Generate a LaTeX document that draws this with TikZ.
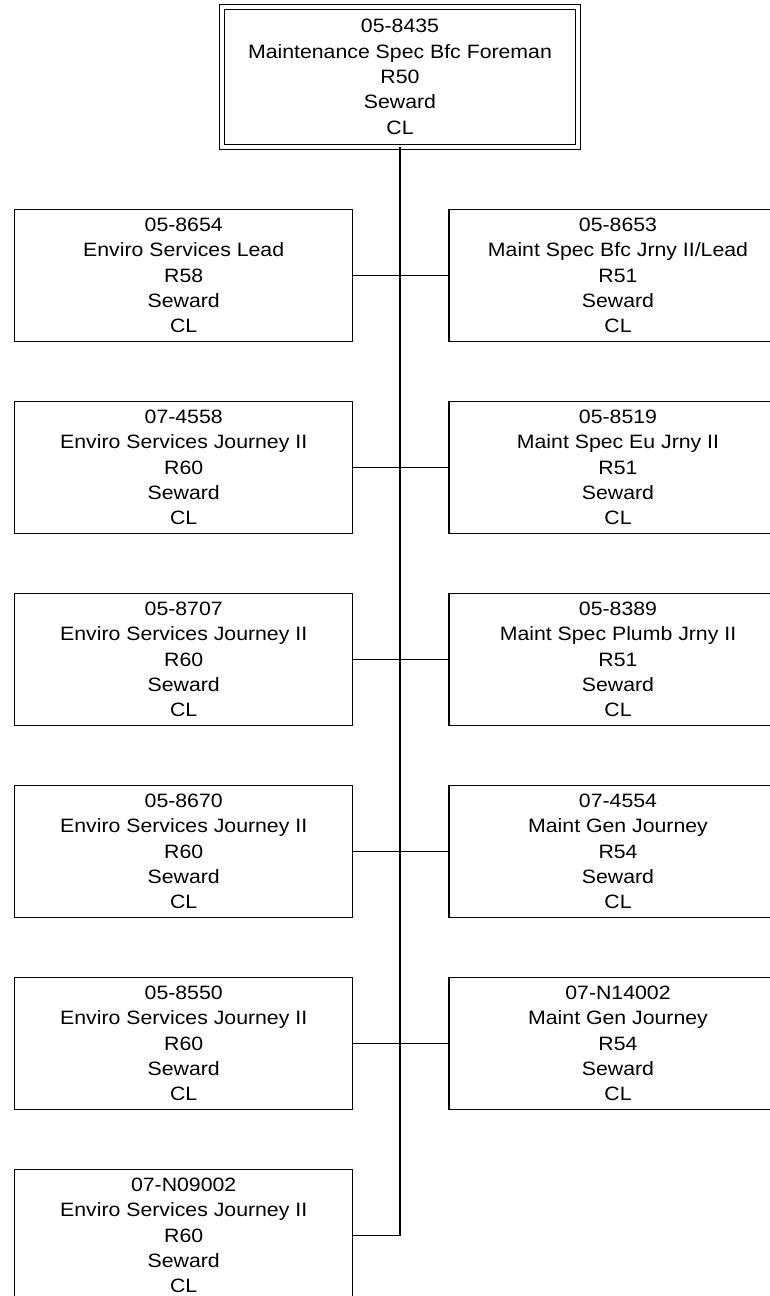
\documentclass[tikz,border=0pt]{standalone}
\usepackage{fontspec}
\setmainfont[FakeStretch=1.1]{Liberation Sans}
\usetikzlibrary{positioning}
\tikzstyle{post} = [draw,line width=1pt,rectangle,align=center,inner sep=0pt,minimum width=253.5pt,minimum height=99pt,font=\fontsize{14.5}{19}\selectfont]
\tikzstyle{head} = [post,line width=0.75pt,double,double distance=3pt,minimum width=267.4pt,minimum height=105pt]

\begin{document}
\begin{tikzpicture}[x=0.75pt,y=-0.75pt]
		\clip (0,0) rectangle (770,1296);
		\node[head] (0) at (400,76.8) {05-8435\\Maintenance Spec Bfc Foreman\\R50\\Seward\\CL};
		\node[post] (l1) at (183.7,275.5) {05-8654\\Enviro Services Lead\\R58\\Seward\\CL};
		\node[post] (r1) at (618,275.5) {05-8653\\Maint Spec Bfc Jrny II/Lead\\R51\\Seward\\CL};
		\node[post] (l2) at (183.7,467.5) {07-4558\\Enviro Services Journey II\\R60\\Seward\\CL};
		\node[post] (r2) at (618,467.5) {05-8519\\Maint Spec Eu Jrny II\\R51\\Seward\\CL};
		\node[post] (l3) at (183.7,659.5) {05-8707\\Enviro Services Journey II\\R60\\Seward\\CL};
		\node[post] (r3) at (618,659.5) {05-8389\\Maint Spec Plumb Jrny II\\R51\\Seward\\CL};
		\node[post] (l4) at (183.7,851.5) {05-8670\\Enviro Services Journey II\\R60\\Seward\\CL};
		\node[post] (r4) at (618,851.5) {07-4554\\Maint Gen Journey\\R54\\Seward\\CL};
		\node[post] (l5) at (183.7,1043.5) {05-8550\\Enviro Services Journey II\\R60\\Seward\\CL};
		\node[post] (r5) at (618,1043.5) {07-N14002\\Maint Gen Journey\\R54\\Seward\\CL};
		\node[post] (l6) at (183.7,1235.5) {07-N09002\\Enviro Services Journey II\\R60\\Seward\\CL};
		\coordinate (bend) at (400,1235.5);
		\draw[line width=1.5pt] (0.south) to (bend);
		\draw[line width=1pt] (bend) to (l6.east);
		\draw[line width=1pt] (l1) to (r1) (l2) to (r2) (l3) to (r3) (l4) to (r4) (l5) to (r5);
	\end{tikzpicture}
\end{document}
